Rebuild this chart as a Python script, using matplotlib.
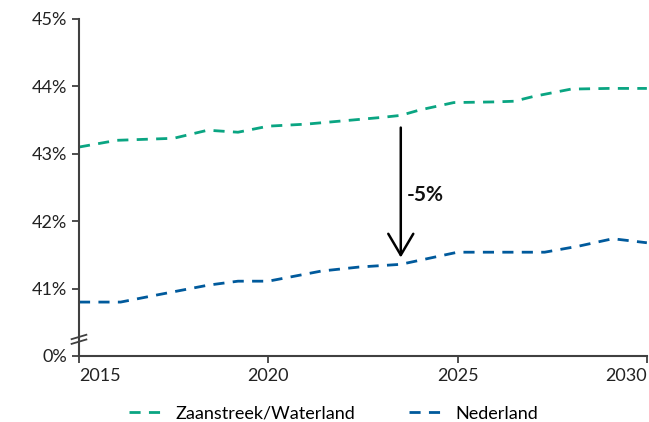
import matplotlib.pyplot as plt

# values (percent)
years_zw = [2015, 2016, 2017, 2017.5, 2018.4, 2019.2, 2020, 2021, 2022, 2023, 2023.5,
            2024, 2024.9, 2026, 2026.5, 2027, 2028, 2029, 2030]
zaanstreek = [43.10, 43.20, 43.22, 43.23, 43.35, 43.32, 43.41, 43.44, 43.49, 43.54, 43.57,
              43.65, 43.76, 43.77, 43.78, 43.85, 43.96, 43.97, 43.97]

years_nl = [2015, 2016.1, 2017.1, 2018.4, 2019.2, 2020, 2021.4, 2022.4, 2023.5,
            2025, 2026, 2027.3, 2028.2, 2029.1, 2030]
nederland = [40.80, 40.80, 40.91, 41.05, 41.11, 41.11, 41.26, 41.32, 41.36,
             41.54, 41.54, 41.54, 41.63, 41.74, 41.68]

series_names = ['Zaanstreek/Waterland', 'Nederland']
tick_values = [40, 41, 42, 43, 44, 45]
tick_labels = ['0%', '41%', '42%', '43%', '44%', '45%']
x_ticks = [2015, 2020, 2025, 2030]

arrow_year = 2023.5
arrow_top = 43.43
arrow_bottom = 41.42
arrow_label = '-5%'

GREEN = '#0aa582'
BLUE = '#005a9c'
AXIS = '#404040'

plt.rcParams['font.family'] = ['Lato', 'DejaVu Sans']

fig = plt.figure(figsize=(6.49, 4.22), dpi=100)
ax = fig.add_axes([0.1217, 0.1564, 0.875, 0.7986])

ax.plot(years_zw, zaanstreek, color=GREEN, lw=2, dashes=(4, 3), label=series_names[0])
ax.plot(years_nl, nederland, color=BLUE, lw=2, dashes=(4, 3), label=series_names[1])

ax.set_xlim(2015, 2030)
ax.set_ylim(40, 45)
ax.set_yticks(tick_values)
ax.set_yticklabels(tick_labels)
ax.set_xticks(x_ticks)

for s in ['top', 'right']:
    ax.spines[s].set_visible(False)
for s in ['left', 'bottom']:
    ax.spines[s].set_color(AXIS)
    ax.spines[s].set_linewidth(1.5)
ax.tick_params(colors=AXIS, width=1.3, length=5, labelsize=13, labelcolor='#222222')
ax.tick_params(axis='x', pad=4)
ax.get_xticklabels()[0].set_ha('left')
ax.get_xticklabels()[-1].set_ha('right')

# axis break marks
for y0 in (0.036, 0.050):
    ax.plot([-0.013, 0.013], [y0, y0 + 0.013], transform=ax.transAxes,
            color=AXIS, lw=1.3, clip_on=False)

# arrow and label
ax.annotate('', xy=(arrow_year, arrow_bottom), xytext=(arrow_year, arrow_top),
            arrowprops=dict(arrowstyle='->,head_width=0.5,head_length=0.85',
                            color='black', lw=1.8, mutation_scale=18))
ax.text(arrow_year + 0.15, 42.39, arrow_label, fontsize=15, fontweight='bold',
        va='center', ha='left', color='#111111')

leg = fig.legend(loc='center', bbox_to_anchor=(0.514, 0.02), ncol=2, frameon=False,
                 fontsize=13, handlelength=2.1, columnspacing=3.0, handletextpad=0.45)

fig.savefig('out.png', dpi=100)
